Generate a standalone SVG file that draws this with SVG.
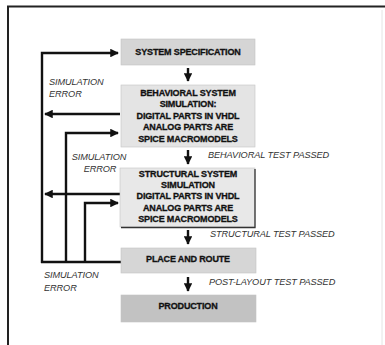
<svg xmlns="http://www.w3.org/2000/svg" width="385" height="345" viewBox="0 0 385 345">
<defs>
<style>
.box{stroke:#c4c4c4;stroke-width:0.6}
.bt{font-family:"Liberation Sans",Arial,sans-serif;font-weight:bold;font-size:9px;fill:#111;stroke:#111;stroke-width:0.3;text-anchor:middle;letter-spacing:-0.15px}
.lb{font-family:"Liberation Sans",Arial,sans-serif;font-style:italic;font-size:9.2px;fill:#333;letter-spacing:-0.1px}
.ln{fill:none;stroke:#111;stroke-width:2.4}
</style>
<marker id="ah" viewBox="0 0 10 10" refX="9" refY="5" markerWidth="4" markerHeight="3.6" orient="auto" markerUnits="strokeWidth">
<path d="M0,0 L10,5 L0,10 Z" fill="#111"/>
</marker>
</defs>
<rect width="385" height="345" fill="#ffffff"/>
<g id="frame">
<line x1="7" y1="6.5" x2="385" y2="6.5" stroke="#222" stroke-width="2"/>
<line x1="8" y1="6" x2="8" y2="345" stroke="#222" stroke-width="2"/>
<line x1="382" y1="10" x2="382" y2="345" stroke="#e4e4e4" stroke-width="1"/>
</g>
<g id="connectors">
<path class="ln" d="M42,263 V53 H118" marker-end="url(#ah)"/>
<path class="ln" d="M120,114 H45" marker-end="url(#ah)"/>
<path class="ln" d="M66,263 V133 H118" marker-end="url(#ah)"/>
<path class="ln" d="M120,194 H45" marker-end="url(#ah)"/>
<path class="ln" d="M85,263 V203 H118" marker-end="url(#ah)"/>
<path class="ln" d="M41,262 H121"/>
<path class="ln" d="M188,68 V81" marker-end="url(#ah)"/>
<path class="ln" d="M188,150 V164" marker-end="url(#ah)"/>
<path class="ln" d="M188,230 V244" marker-end="url(#ah)"/>
<path class="ln" d="M188,277 V291" marker-end="url(#ah)"/>
</g>
<g id="spec">
<rect class="box" x="121" y="39" width="134" height="26" fill="#d5d5d5"/>
<text class="bt" x="188" y="55">SYSTEM SPECIFICATION</text>
</g>
<g id="behavioral">
<rect class="box" x="121" y="85" width="134" height="62" fill="#e4e4e4"/>
<text class="bt" x="188" y="95.5">BEHAVIORAL SYSTEM</text>
<text class="bt" x="188" y="107">SIMULATION:</text>
<text class="bt" x="188" y="118.5">DIGITAL PARTS IN VHDL</text>
<text class="bt" x="188" y="130">ANALOG PARTS ARE</text>
<text class="bt" x="188" y="141.5">SPICE MACROMODELS</text>
</g>
<g id="structural">
<rect class="box" x="120" y="168" width="135" height="59" fill="#e8e8e8"/>
<path d="M255,169 V227.5 H121" fill="none" stroke="#333" stroke-width="1.3"/>
<text class="bt" x="188" y="176.5">STRUCTURAL SYSTEM</text>
<text class="bt" x="188" y="187.5">SIMULATION</text>
<text class="bt" x="188" y="199">DIGITAL PARTS IN VHDL</text>
<text class="bt" x="188" y="210.5">ANALOG PARTS ARE</text>
<text class="bt" x="188" y="221.5">SPICE MACROMODELS</text>
</g>
<g id="placeroute">
<rect class="box" x="121" y="248" width="135" height="25" fill="#d6d6d6"/>
<text class="bt" x="188" y="261.5">PLACE AND ROUTE</text>
</g>
<g id="production">
<rect class="box" x="121" y="295" width="135" height="27" fill="#c2c2c2"/>
<text class="bt" x="188" y="309">PRODUCTION</text>
</g>
<g id="labels">
<text class="lb" x="49" y="84.5">SIMULATION</text>
<text class="lb" x="49" y="97">ERROR</text>
<text class="lb" x="99" y="160" text-anchor="middle">SIMULATION</text>
<text class="lb" x="100" y="172" text-anchor="middle">ERROR</text>
<text class="lb" x="44" y="278">SIMULATION</text>
<text class="lb" x="44" y="290.5">ERROR</text>
<text class="lb" x="208" y="158">BEHAVIORAL TEST PASSED</text>
<text class="lb" x="210" y="237">STRUCTURAL TEST PASSED</text>
<text class="lb" x="209" y="285">POST-LAYOUT TEST PASSED</text>
</g>
</svg>
